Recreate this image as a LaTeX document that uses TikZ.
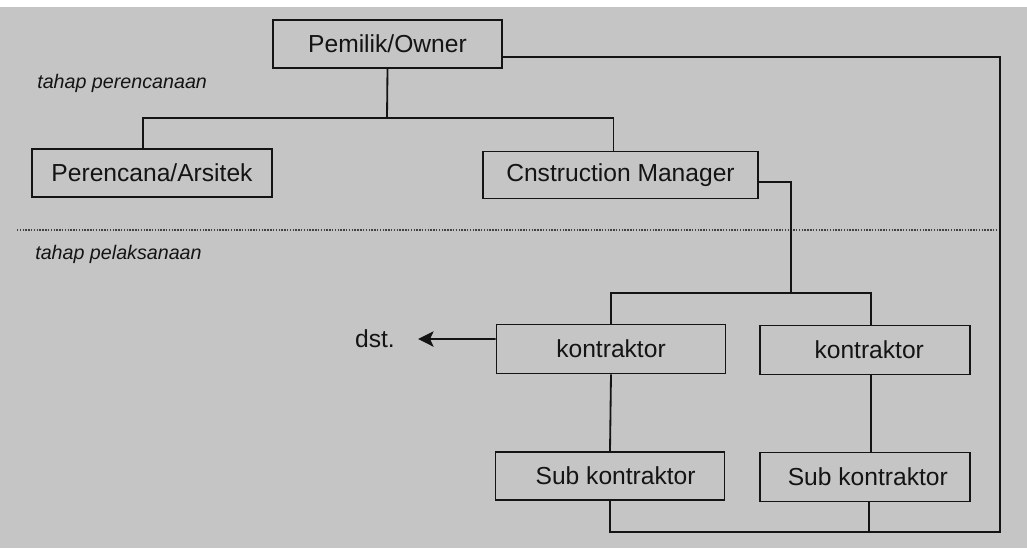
\documentclass[tikz,border=0pt]{standalone}
\usepackage{fontspec}
\setmainfont{Liberation Sans}
\usepackage{tikz}
\usetikzlibrary{arrows.meta,positioning,calc}

\definecolor{paper}{RGB}{197,197,197}
\definecolor{ink}{RGB}{20,20,20}

\begin{document}
\begin{tikzpicture}[
    x=0.025cm, y=-0.025cm,
    unit/.style={draw=ink, line width=1.3pt, minimum height=1.2cm, inner sep=0pt, text=ink, font=\fontsize{17.5}{21}\selectfont},
    stage/.style={anchor=west, inner sep=0pt, text=ink, font=\fontsize{14}{17}\selectfont\itshape},
    conn/.style={draw=ink, line width=1.3pt},
    arr/.style={-{Stealth[length=11pt,width=11pt,inset=2.5pt]}, line width=1.3pt, draw=ink}
]
\useasboundingbox (0,0) rectangle (1027,548);
\fill[paper] (0,7) rectangle (1027,548);

% planning stage
\node[unit, minimum width=5.725cm] (owner) at (387.5,44) {Pemilik/Owner};
\node[unit, minimum width=6cm] (arsitek) at (152,173) {Perencana/Arsitek};
\node[unit, minimum width=6.875cm, minimum height=1.175cm] (cm) at (620.5,175) {Cnstruction Manager};
\node[stage] (plan) at (37,83) {tahap perencanaan};

% separator
\draw[ink!80, line width=0.8pt, dash pattern=on 1pt off 1pt] (17,230) -- (997,230);
\node[stage] (exec) at (35,254) {tahap pelaksanaan};

% execution stage
\node[unit, minimum width=5.725cm, minimum height=1.225cm] (k1) at (611,349) {kontraktor};
\node[unit, minimum width=5.25cm, minimum height=1.225cm] (k2) at (865,350) {\hspace{6pt}kontraktor};
\node[unit, minimum width=5.725cm] (s1) at (610,476) {\hspace{8pt}Sub kontraktor};
\node[unit, minimum width=5.25cm, minimum height=1.225cm] (s2) at (865,477) {\hspace{4pt}Sub kontraktor};
\node[inner sep=0pt, text=ink, font=\fontsize{17.5}{21}\selectfont] (dst) at (375,339) {dst.};

\coordinate (ownbus) at (387,118);
\coordinate (kbus) at (791,293);
\coordinate (rdrop) at (1000,532);

\draw[conn] (owner.south) -- (ownbus);
\draw[conn] ([xshift=-0.225cm]arsitek.north) |- (ownbus) -| ([xshift=-0.175cm]cm.north);
\draw[conn] ([yshift=-0.175cm]cm.east) -| (kbus);
\draw[conn] (k1.north) |- (kbus) -| ([xshift=0.15cm]k2.north);
\draw[conn] (k1.south) -- (s1.north);
\draw[conn] ([xshift=0.15cm]k2.south) -- ([xshift=0.15cm]s2.north);
\draw[conn] ([yshift=-0.325cm]owner.east) -| (rdrop) -| (s1.south);
\draw[conn] ([xshift=0.1cm]s2.south) -- ([xshift=0.1cm]s2.south |- rdrop);
\draw[arr] ([yshift=0.25cm]k1.west) -- ([xshift=0.575cm]dst.east);
\end{tikzpicture}
\end{document}
